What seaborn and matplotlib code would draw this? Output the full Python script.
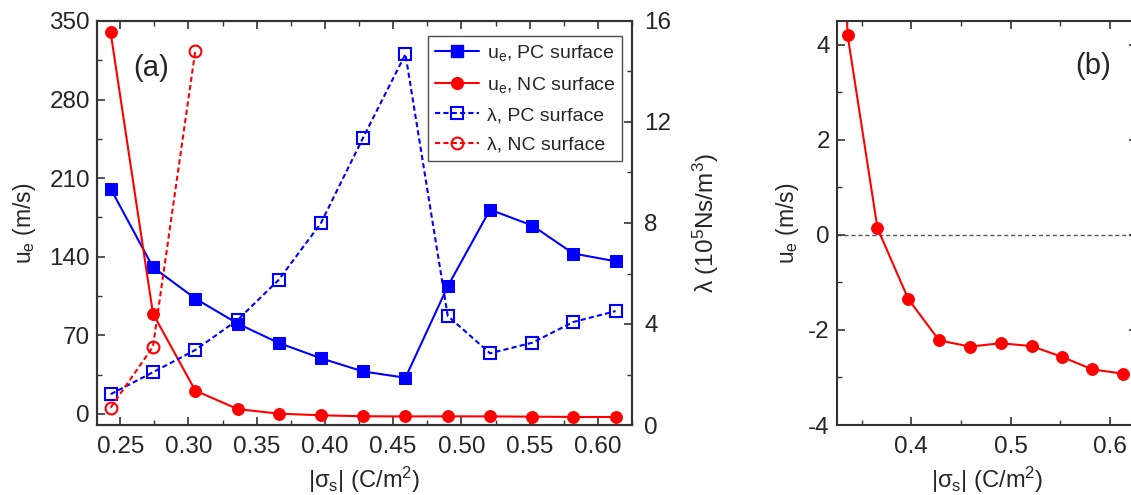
import numpy as np
import pandas as pd
import matplotlib
matplotlib.use("Agg")
import matplotlib.pyplot as plt
import seaborn as sns
from matplotlib.ticker import MultipleLocator
from matplotlib.lines import Line2D

sns.set_style("ticks")
plt.rcParams['font.family'] = ['Liberation Sans', 'DejaVu Sans']
plt.rcParams['mathtext.default'] = 'regular'
plt.rcParams['axes.unicode_minus'] = False

# ---- data ----
sigma = [0.243, 0.274, 0.305, 0.336, 0.366, 0.397, 0.428, 0.459, 0.490, 0.521, 0.552, 0.582, 0.613]
ue_pc = [200.6, 130.6, 102.7, 80.4, 63.2, 49.5, 37.7, 32.1, 113.6, 181.9, 167.7, 142.8, 135.9]
ue_nc = [339.8, 89.3, 20.7, 4.2, 0.14, -1.35, -2.22, -2.35, -2.28, -2.34, -2.57, -2.83, -2.92]
lam_pc = [1.22, 2.09, 2.97, 4.16, 5.74, 7.99, 11.38, 14.69, 4.32, 2.84, 3.26, 4.08, 4.51]
sigma_nc_lam = [0.243, 0.274, 0.305]
lam_nc = [0.69, 3.10, 14.81]

labels = ["u$_e$, PC surface", "u$_e$, NC surface", "λ, PC surface", "λ, NC surface"]

BLUE = "#0000FF"
RED = "#FF0000"
SPINE = "#333333"

fig = plt.figure(figsize=(11.31, 4.95), dpi=100)
W, H = 1131, 495
ax1 = fig.add_axes([97 / W, 1 - 425 / H, (632 - 97) / W, (425 - 21) / H])
ax2 = ax1.twinx()
ax3 = fig.add_axes([836.7 / W, 1 - 425 / H, (1137 - 836.7) / W, (425 - 21) / H])

df = pd.DataFrame({"sigma": sigma, "ue_pc": ue_pc, "ue_nc": ue_nc, "lam_pc": lam_pc})
dfl = pd.DataFrame({"sigma": sigma_nc_lam, "lam_nc": lam_nc})

ms = 8.5
dash = (0, (2.5, 1.5))
sns.lineplot(data=df, x="sigma", y="ue_pc", ax=ax1, color=BLUE, marker="s", markersize=ms,
             markeredgecolor=BLUE, linewidth=1.5, sort=False)
sns.lineplot(data=df, x="sigma", y="ue_nc", ax=ax1, color=RED, marker="o", markersize=ms,
             markeredgecolor=RED, linewidth=1.5, sort=False)
sns.lineplot(data=df, x="sigma", y="lam_pc", ax=ax2, color=BLUE, marker="s", markersize=ms,
             markerfacecolor="none", markeredgecolor=BLUE, markeredgewidth=1.5,
             linewidth=1.5, linestyle=dash, sort=False)
sns.lineplot(data=dfl, x="sigma", y="lam_nc", ax=ax2, color=RED, marker="o", markersize=ms,
             markerfacecolor="none", markeredgecolor=RED, markeredgewidth=1.5,
             linewidth=1.5, linestyle=dash, sort=False)

# panel (b)
sns.lineplot(data=df, x="sigma", y="ue_nc", ax=ax3, color=RED, marker="o", markersize=ms,
             markeredgecolor=RED, linewidth=1.5, sort=False)
ax3.axhline(0, color="#555555", linestyle=(0, (3, 2)), linewidth=1.0, zorder=0)

# limits
ax1.set_xlim(0.233, 0.625)
ax1.set_ylim(-10, 350)
ax2.set_ylim(0, 16)
ax3.set_ylim(-4, 4.5)

ax1.xaxis.set_minor_locator(MultipleLocator(0.025))
ax1.yaxis.set_major_locator(MultipleLocator(70))
ax1.yaxis.set_minor_locator(MultipleLocator(35))
ax1.set_xticks([0.25, 0.30, 0.35, 0.40, 0.45, 0.50, 0.55, 0.60])
ax1.set_xticklabels(["0.25", "0.30", "0.35", "0.40", "0.45", "0.50", "0.55", "0.60"])
ax1.set_xlim(0.233, 0.625)
ax2.yaxis.set_major_locator(MultipleLocator(4))
ax2.yaxis.set_minor_locator(MultipleLocator(2))
ax3.xaxis.set_minor_locator(MultipleLocator(0.05))
ax3.yaxis.set_major_locator(MultipleLocator(2))
ax3.yaxis.set_minor_locator(MultipleLocator(1))
ax3.set_xticks([0.4, 0.5, 0.6])
ax3.set_xticklabels(["0.4", "0.5", "0.6"])
ax3.set_xlim(0.325, 0.627)

fs = 17.5
for ax in (ax1, ax2, ax3):
    for s in ax.spines.values():
        s.set_color(SPINE)
        s.set_linewidth(1.5)
    ax.tick_params(which="major", direction="in", length=6, width=1.2, color=SPINE, labelsize=fs, pad=5)
    ax.tick_params(which="minor", direction="in", length=3.5, width=1.0, color=SPINE)
    ax.tick_params(axis="x", which="major", pad=8)

ax1.tick_params(which="both", top=True, right=False)
ax2.tick_params(which="both", right=True, left=False)
ax2.tick_params(axis="y", which="major", pad=9)
ax3.tick_params(which="both", top=True, right=True)

ax1.set_xlabel("|σ$_s$| (C/m$^2$)", fontsize=17, labelpad=5)
ax1.set_ylabel("u$_e$ (m/s)", fontsize=16.5, labelpad=8)
ax2.set_ylabel("λ (10$^5$Ns/m$^3$)", fontsize=17.5, labelpad=14)
ax3.set_xlabel("|σ$_s$| (C/m$^2$)", fontsize=17, labelpad=5)
ax3.set_ylabel("u$_e$ (m/s)", fontsize=16.5, labelpad=5)

ax1.text(0.101, 0.883, "(a)", transform=ax1.transAxes, fontsize=21, ha="center", va="center")
ax3.text(0.855, 0.889, "(b)", transform=ax3.transAxes, fontsize=21, ha="center", va="center")

handles = [
    Line2D([], [], color=BLUE, marker="s", markersize=ms, linewidth=1.5),
    Line2D([], [], color=RED, marker="o", markersize=ms, linewidth=1.5),
    Line2D([], [], color=BLUE, marker="s", markersize=ms, markerfacecolor="none",
           markeredgewidth=1.5, linewidth=1.5, linestyle=dash),
    Line2D([], [], color=RED, marker="o", markersize=ms, markerfacecolor="none",
           markeredgewidth=1.5, linewidth=1.5, linestyle=dash),
]
leg = ax2.legend(handles, labels, loc="upper left",
                 bbox_to_anchor=((427.7 - 97) / 535, (425 - 35.7) / 404),
                 fontsize=14, frameon=True, fancybox=False, edgecolor="#222222",
                 handlelength=2.3, handletextpad=0.4, borderpad=0.35, labelspacing=0.62,
                 borderaxespad=0)
leg.get_frame().set_linewidth(1.0)

fig.savefig("out.png", dpi=100)
